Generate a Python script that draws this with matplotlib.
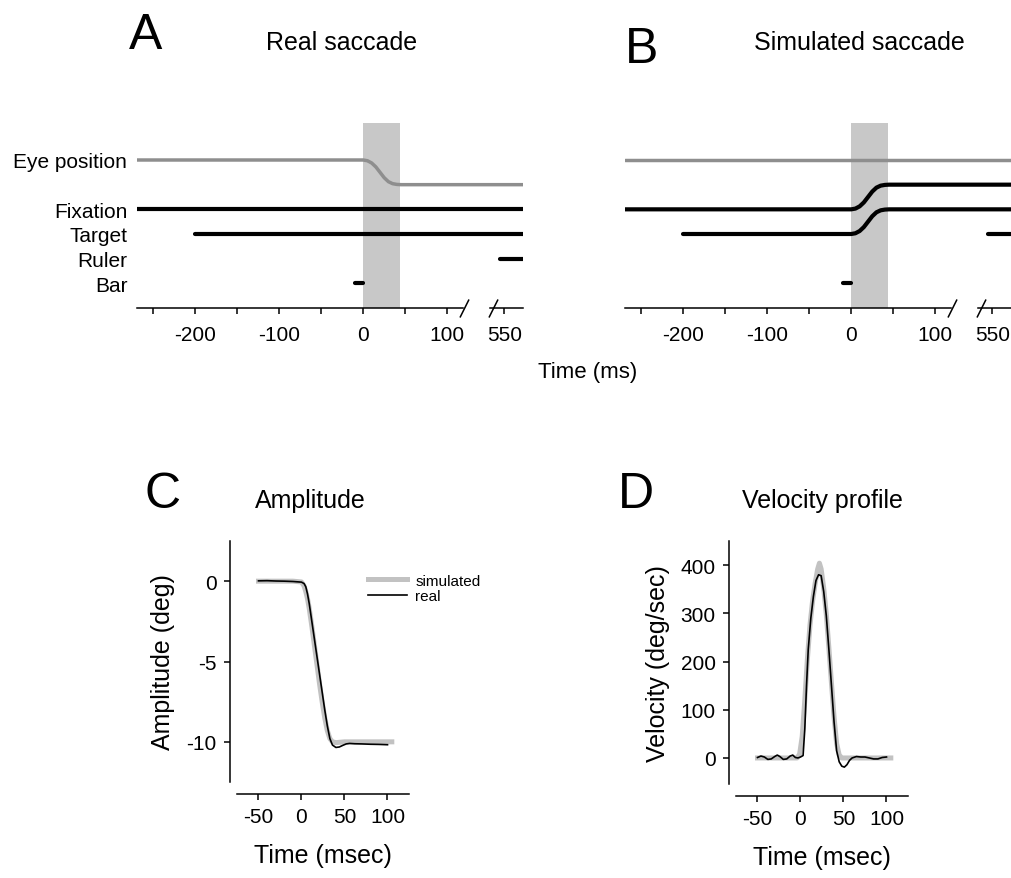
import matplotlib.pyplot as plt
import numpy as np

plt.rcParams["font.family"] = ["Liberation Sans", "DejaVu Sans"]
plt.rcParams["axes.unicode_minus"] = False

# --- panels A / B: event traces (time in ms, rows in trace units) ---
T_START = -269
T_END = 572
TARGET_ON = -200
RULER_ON = 545
BAR_ON, BAR_OFF = -10, 0
SACC_WINDOW = (0, 44)
SACC_T = [0, 5, 10, 15, 20, 25, 30, 35, 40, 45]
SACC_SHAPE = [0.0, 0.03, 0.12, 0.28, 0.5, 0.72, 0.88, 0.96, 0.99, 1.0]
ROW_NAMES = ["Eye position", "Fixation", "Target", "Ruler", "Bar"]
ROW_Y = [6, 4, 3, 2, 1]
MAJOR_TICKS = [-200, -100, 0, 100, 550]
MINOR_TICKS = [-250, -150, -50, 50]

# broken time axis: 120..530 ms squeezed into a short gap
BREAK_REAL = [-1000, 120, 530, 2000]
BREAK_SHOWN = [-1000, 120, 148, 1618]

# --- panel C: amplitude (deg) ---
AMP_T_SIM = [-50, -10, 0, 3, 5, 7, 9, 12, 15, 18, 21, 24, 27, 30, 33, 36, 40,
             50, 70, 90, 105]
AMP_SIM = [0.0, 0.0, -0.05, -0.3, -0.65, -1.1, -1.7, -2.8, -4.0, -5.2, -6.4,
           -7.5, -8.5, -9.3, -9.8, -10.0, -10.05, -10.0, -10.0, -10.0, -10.0]
AMP_T_REAL = [-50, -40, -30, -20, -10, -5, 0, 3, 5, 7, 9, 12, 15, 18, 21, 24,
              27, 30, 33, 36, 40, 44, 48, 52, 56, 62, 70, 80, 90, 100]
AMP_REAL = [0.02, 0.03, 0.01, 0.0, -0.02, -0.04, -0.06, -0.15, -0.35, -0.8,
            -1.4, -2.5, -3.6, -4.7, -5.8, -6.9, -8.0, -9.0, -9.8, -10.2,
            -10.35, -10.32, -10.22, -10.13, -10.1, -10.12, -10.13, -10.15,
            -10.16, -10.18]

# --- panel D: velocity (deg/sec) ---
VEL_T_SIM = [-50, -10, -4, -1, 2, 5, 8, 11, 14, 17, 20, 22, 24, 27, 30, 33,
             36, 39, 42, 45, 48, 60, 80, 105]
VEL_SIM = [0, 0, 0, 8, 45, 120, 205, 275, 325, 362, 392, 404, 392, 352, 298,
           228, 155, 85, 30, 6, 0, 0, 0, 0]
VEL_T_REAL = [-50, -46, -42, -38, -34, -30, -27, -24, -20, -16, -12, -9, -6,
              -3, 0, 3, 5, 7, 9, 12, 15, 18, 21, 24, 27, 30, 33, 36, 39, 42,
              45, 48, 51, 54, 57, 60, 65, 70, 75, 80, 85, 90, 95, 100]
VEL_REAL = [1, 4, 2, -3, -2, 3, 6, 3, -3, -2, 4, 6, 1, 0, 2, 5, 60, 150, 225,
            290, 335, 368, 380, 378, 345, 295, 225, 150, 75, 15, -8, -17, -19,
            -14, -5, 0, 3, 2, 2, 0, -2, -2, 1, 2]

W, H = 1012, 879
BLACK = "black"
EYE_GREY = "#8e8e8e"
SHADE = "#c8c8c8"
SIM_GREY = "#c2c2c2"


def fwd(t):
    return np.interp(t, BREAK_REAL, BREAK_SHOWN)


def inv(d):
    return np.interp(d, BREAK_SHOWN, BREAK_REAL)


def px_box(x0, y0, x1, y1):
    """Axes rect from pixel corners (top-left origin)."""
    return [x0 / W, 1 - y1 / H, (x1 - x0) / W, (y1 - y0) / H]


def step_trace(t0, y_before, y_after, t1):
    ts = [t0] + SACC_T + [t1]
    ys = [y_before] + [y_before + (y_after - y_before) * s for s in SACC_SHAPE] + [y_after]
    return ts, ys


def event_panel(ax, simulated):
    ax.set_xscale("function", functions=(fwd, inv))
    ax.set_xlim(T_START, T_END)
    ax.set_ylim(0, 7.5)
    ax.axvspan(*SACC_WINDOW, color=SHADE, lw=0, zorder=0)

    kw = dict(color=BLACK, lw=3.0, solid_capstyle="round")
    if simulated:
        ax.plot([T_START, T_END], [6, 6], color=EYE_GREY, lw=2.5,
                solid_capstyle="round")
        ax.plot(*step_trace(T_START, 4, 5, T_END), **kw)
        ax.plot(*step_trace(TARGET_ON, 3, 4, T_END), **kw)
        ax.plot([RULER_ON, T_END], [3, 3], **kw)
    else:
        ax.plot(*step_trace(T_START, 6, 5, T_END), color=EYE_GREY, lw=2.5,
                solid_capstyle="round")
        ax.plot([T_START, T_END], [4, 4], **kw)
        ax.plot([TARGET_ON, T_END], [3, 3], **kw)
        ax.plot([RULER_ON, T_END], [2, 2], **kw)
    ax.plot([BAR_ON, BAR_OFF], [1, 1], **kw)

    # broken bottom axis
    for seg in ([T_START, 119], [533, T_END]):
        ax.plot(seg, [0, 0], color=BLACK, lw=1.1, clip_on=False)
    ax.plot([120, 536], [0, 0], ls="none", marker=[(-1, -2), (1, 2)],
            markersize=13, mec=BLACK, mew=1.1, clip_on=False)

    for s in ax.spines.values():
        s.set_visible(False)
    ax.set_xticks(MAJOR_TICKS, [str(v) for v in MAJOR_TICKS])
    ax.set_xticks(MINOR_TICKS, minor=True)
    ax.tick_params(axis="x", which="both", direction="out", length=4.5,
                   width=1.1, labelsize=15, pad=8)
    if simulated:
        ax.set_yticks([])
    else:
        ax.set_yticks(ROW_Y, ROW_NAMES)
        ax.tick_params(axis="y", length=0, labelsize=15, pad=7)


def trace_panel(ax, ylim, yticks, ylabel):
    ax.set_xlim(-75, 125)
    ax.set_ylim(*ylim)
    for side in ("top", "right"):
        ax.spines[side].set_visible(False)
    ax.spines["left"].set_position(("outward", 5))
    ax.spines["bottom"].set_position(("outward", 8.5))
    for side in ("left", "bottom"):
        ax.spines[side].set_linewidth(1.1)
    ax.set_xticks([-50, 0, 50, 100])
    ax.set_yticks(yticks)
    ax.tick_params(direction="out", length=4.5, width=1.1, labelsize=15, pad=5)
    ax.set_xlabel("Time (msec)", fontsize=18, labelpad=12)
    ax.set_ylabel(ylabel, fontsize=18, labelpad=8)


fig = plt.figure(figsize=(W / 100, H / 100), dpi=100)

ax_a = fig.add_axes(px_box(137, 124, 523, 309))
ax_b = fig.add_axes(px_box(625, 124, 1011, 309))
event_panel(ax_a, simulated=False)
event_panel(ax_b, simulated=True)

ax_c = fig.add_axes(px_box(237, 542, 409, 783))
ax_c.plot(AMP_T_SIM, AMP_SIM, color=SIM_GREY, lw=3.6, label="simulated")
ax_c.plot(AMP_T_REAL, AMP_REAL, color=BLACK, lw=1.2, label="real")
trace_panel(ax_c, (-12.5, 2.5), [0, -5, -10], "Amplitude (deg)")
ax_c.legend(loc="upper left", bbox_to_anchor=(0.76, 0.865), frameon=False,
            fontsize=11, handlelength=2.6, handletextpad=0.5, borderpad=0,
            borderaxespad=0, labelspacing=0.1)

ax_d = fig.add_axes(px_box(736, 542, 908, 785))
ax_d.plot(VEL_T_SIM, VEL_SIM, color=SIM_GREY, lw=3.6)
ax_d.plot(VEL_T_REAL, VEL_REAL, color=BLACK, lw=1.2)
trace_panel(ax_d, (-54, 450), [0, 100, 200, 300, 400], "Velocity (deg/sec)")


# panel letters and titles
def ftext(x, y, s, size):
    fig.text(x / W, 1 - y / H, s, fontsize=size, ha="center", va="center")


ftext(146, 36, "A", 36)
ftext(342, 43, "Real saccade", 18)
ftext(642, 50, "B", 36)
ftext(859, 43, "Simulated saccade", 18)
ftext(588, 373, "Time (ms)", 16)
ftext(163, 495, "C", 36)
ftext(310, 501, "Amplitude", 18)
ftext(636, 495, "D", 36)
ftext(822, 501, "Velocity profile", 18)

fig.savefig("out.png", dpi=100)
